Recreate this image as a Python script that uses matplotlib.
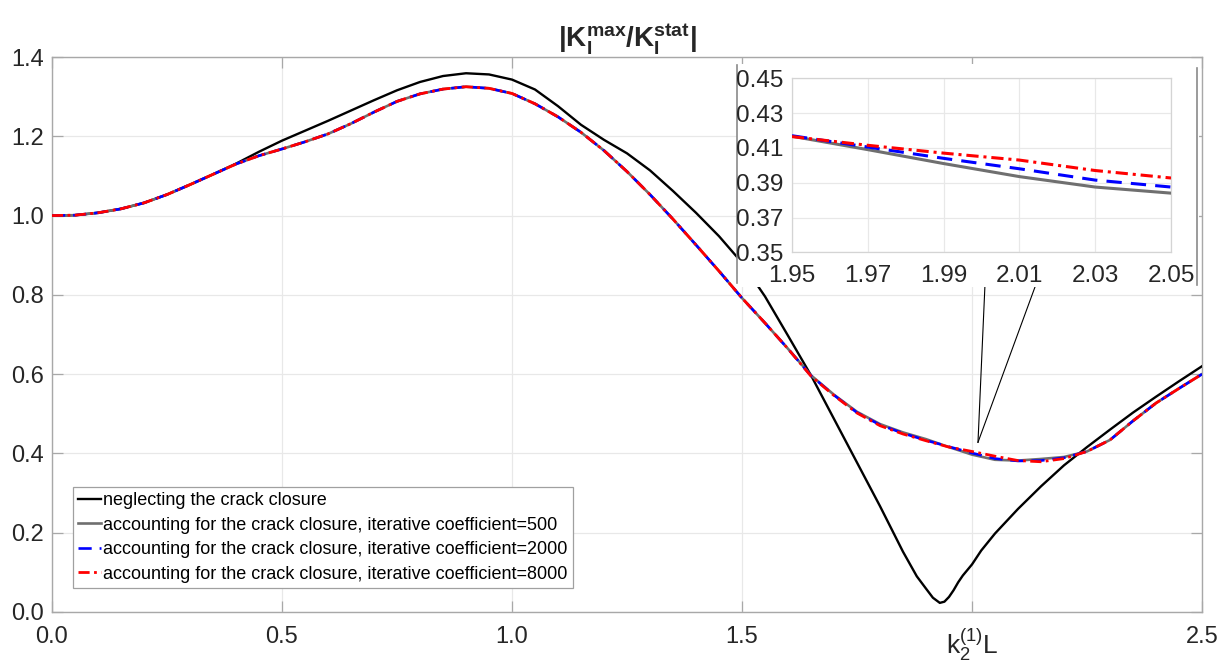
import matplotlib
matplotlib.use("Agg")
import matplotlib.pyplot as plt
from matplotlib.patches import Rectangle
from matplotlib.lines import Line2D

plt.rcParams['font.family'] = ['Liberation Sans', 'DejaVu Sans']
plt.rcParams['mathtext.fontset'] = 'custom'
plt.rcParams['mathtext.rm'] = 'Liberation Sans'
plt.rcParams['mathtext.it'] = 'Liberation Sans:italic'
plt.rcParams['mathtext.bf'] = 'Liberation Sans:bold'

# ---------------- data ----------------
x_neg = [0.00, 0.05, 0.10, 0.15, 0.20, 0.25, 0.30, 0.35, 0.40, 0.45, 0.50, 0.55, 0.60, 0.65,
         0.70, 0.75, 0.80, 0.85, 0.90, 0.95, 1.00, 1.05, 1.10, 1.15, 1.20, 1.25, 1.30, 1.35,
         1.40, 1.45, 1.50, 1.55, 1.60, 1.65, 1.70, 1.75, 1.80, 1.85, 1.88, 1.90, 1.915, 1.93,
         1.94, 1.95, 1.96, 1.97, 1.98, 1.99, 2.00, 2.02, 2.05, 2.10, 2.15, 2.20, 2.25, 2.30,
         2.35, 2.40, 2.45, 2.50]
y_neg = [1.000, 1.001, 1.007, 1.017, 1.032, 1.053, 1.078, 1.104, 1.131, 1.161, 1.189, 1.214,
         1.239, 1.265, 1.291, 1.316, 1.337, 1.352, 1.359, 1.356, 1.343, 1.318, 1.276, 1.229,
         1.191, 1.157, 1.114, 1.062, 1.007, 0.948, 0.881, 0.796, 0.697, 0.597, 0.487, 0.377,
         0.267, 0.152, 0.090, 0.059, 0.036, 0.023, 0.026, 0.038, 0.055, 0.075, 0.092, 0.106,
         0.120, 0.155, 0.198, 0.260, 0.317, 0.370, 0.416, 0.460, 0.503, 0.543, 0.582, 0.620]

x_acc = [0.00, 0.05, 0.10, 0.15, 0.20, 0.25, 0.30, 0.35, 0.40, 0.45, 0.50, 0.55, 0.60, 0.65,
         0.70, 0.75, 0.80, 0.85, 0.90, 0.95, 1.00, 1.05, 1.10, 1.15, 1.20, 1.25, 1.30, 1.35,
         1.40, 1.45, 1.50, 1.55, 1.60, 1.65, 1.70, 1.75, 1.80, 1.85, 1.90, 1.95, 2.00, 2.05,
         2.10, 2.15, 2.20, 2.25, 2.30, 2.35, 2.40, 2.45, 2.50]
y_acc500 = [1.000, 1.001, 1.007, 1.017, 1.032, 1.053, 1.078, 1.104, 1.130, 1.151, 1.168, 1.186,
            1.206, 1.232, 1.261, 1.288, 1.307, 1.319, 1.325, 1.321, 1.308, 1.282, 1.249, 1.210,
            1.164, 1.111, 1.053, 0.991, 0.926, 0.860, 0.792, 0.729, 0.664, 0.597, 0.548, 0.505,
            0.474, 0.453, 0.436, 0.416, 0.397, 0.384, 0.382, 0.386, 0.391, 0.405, 0.434, 0.482,
            0.527, 0.564, 0.600]
y_acc2000 = [1.000, 1.001, 1.007, 1.017, 1.032, 1.053, 1.078, 1.104, 1.130, 1.151, 1.168, 1.186,
             1.206, 1.232, 1.261, 1.288, 1.307, 1.319, 1.325, 1.321, 1.308, 1.282, 1.249, 1.210,
             1.164, 1.111, 1.053, 0.991, 0.926, 0.860, 0.792, 0.729, 0.664, 0.596, 0.547, 0.503,
             0.472, 0.451, 0.433, 0.417, 0.401, 0.387, 0.381, 0.382, 0.389, 0.405, 0.434, 0.482,
             0.527, 0.564, 0.600]
y_acc8000 = [1.000, 1.001, 1.007, 1.017, 1.032, 1.053, 1.078, 1.104, 1.130, 1.151, 1.168, 1.186,
             1.206, 1.232, 1.261, 1.288, 1.307, 1.319, 1.325, 1.321, 1.308, 1.282, 1.249, 1.210,
             1.164, 1.111, 1.053, 0.991, 0.926, 0.860, 0.792, 0.729, 0.664, 0.595, 0.546, 0.502,
             0.470, 0.449, 0.432, 0.416, 0.405, 0.393, 0.382, 0.379, 0.387, 0.405, 0.434, 0.482,
             0.527, 0.564, 0.600]

# inset (zoom on 1.95 .. 2.05)
x_in = [1.95, 1.97, 1.99, 2.01, 2.03, 2.05]
y_in500 = [0.4167, 0.4090, 0.4010, 0.3935, 0.3875, 0.3840]
y_in2000 = [0.4170, 0.4105, 0.4040, 0.3980, 0.3915, 0.3875]
y_in8000 = [0.4165, 0.4115, 0.4070, 0.4030, 0.3970, 0.3927]

labels = ["neglecting the crack closure",
          "accounting for the crack closure, iterative coefficient=500",
          "accounting for the crack closure, iterative coefficient=2000",
          "accounting for the crack closure, iterative coefficient=8000"]

x_ticks = [0.0, 0.5, 1.0, 1.5, 2.0, 2.5]
x_ticklabels = ["0.0", "0.5", "1.0", "1.5", r"$\mathrm{k_2^{(1)}L}$", "2.5"]
y_ticks = [0.0, 0.2, 0.4, 0.6, 0.8, 1.0, 1.2, 1.4]
y_ticklabels = ["0.0", "0.2", "0.4", "0.6", "0.8", "1.0", "1.2", "1.4"]
xin_ticks = [1.95, 1.97, 1.99, 2.01, 2.03, 2.05]
yin_ticks = [0.35, 0.37, 0.39, 0.41, 0.43, 0.45]

# leader lines (annotation) from zoomed point to inset
lead_apex = (2.013, 0.428)
lead_ends = [(2.028, 0.82), (2.137, 0.82)]

# ---------------- styles ----------------
C_BLACK = "black"
C_GRAY = "#6f6f6f"
C_BLUE = "#0000ff"
C_RED = "#ff0000"
SPINE = "#a8a8a8"
GRID = "#e8e8e8"
TXT = "#262626"

W, H = 1228, 667
fig = plt.figure(figsize=(W / 100, H / 100), dpi=100)
ax = fig.add_axes([52 / W, 1 - 612 / H, 1150 / W, 555 / H])

ax.plot(x_neg, y_neg, color=C_BLACK, lw=1.7, label=labels[0], zorder=3)
ax.plot(x_acc, y_acc500, color=C_GRAY, lw=1.9, label=labels[1], zorder=4)
ax.plot(x_acc, y_acc2000, color=C_BLUE, lw=1.9, ls=(0, (5, 3)), label=labels[2], zorder=5)
ax.plot(x_acc, y_acc8000, color=C_RED, lw=2.0, ls=(0, (4, 1.6, 1, 1.6)), label=labels[3], zorder=6)

for (ex, ey) in lead_ends:
    ax.plot([lead_apex[0], ex], [lead_apex[1], ey], color="black", lw=0.8, zorder=7)

ax.set_xlim(0, 2.5)
ax.set_ylim(0, 1.4)
ax.set_xticks(x_ticks)
ax.set_xticklabels(x_ticklabels)
ax.set_yticks(y_ticks)
ax.set_yticklabels(y_ticklabels)
ax.grid(True, color=GRID, lw=0.9)
ax.set_axisbelow(True)
for s in ax.spines.values():
    s.set_color(SPINE)
    s.set_linewidth(1.0)
ax.tick_params(direction="in", length=8, width=0.9, color=SPINE, labelsize=17,
               labelcolor=TXT, top=True, right=True)
ax.tick_params(axis="x", pad=10)
ax.tick_params(axis="y", pad=6)
ax.get_xticklabels()[4].set_fontsize(19)

ax.set_title(r"$\mathbf{|K_I^{max}/K_I^{stat}|}$", fontsize=20, color=TXT, pad=7)

leg = ax.legend(loc="lower left", bbox_to_anchor=(0.018, 0.043), borderaxespad=0,
                fontsize=13, handlelength=1.25, handletextpad=0.15, labelspacing=0.42,
                borderpad=0.3, fancybox=False, framealpha=1, edgecolor="#a0a0a0")
leg.get_frame().set_linewidth(0.9)

# white background behind inset + side frame lines
rect = Rectangle((737 / W, 1 - 287 / H), (1199 - 737) / W, (287 - 64) / H,
                 transform=fig.transFigure, facecolor="white", edgecolor="none", zorder=1)
fig.add_artist(rect)
fig.add_artist(Line2D([737 / W, 737 / W], [1 - 283 / H, 1 - 65 / H], transform=fig.transFigure,
                      color="#8a8a8a", lw=1.2, zorder=1.5))
fig.add_artist(Line2D([1197 / W, 1197 / W], [1 - 285 / H, 1 - 68 / H], transform=fig.transFigure,
                      color="#8a8a8a", lw=1.2, zorder=1.5))

# inset axes
axi = fig.add_axes([792 / W, 1 - 252.3 / H, (1171 - 792) / W, (252.3 - 78.3) / H], zorder=2)
axi.plot(x_in, y_in500, color=C_GRAY, lw=2.2, zorder=3)
axi.plot(x_in, y_in2000, color=C_BLUE, lw=2.2, ls=(0, (5, 3)), zorder=4)
axi.plot(x_in, y_in8000, color=C_RED, lw=2.2, ls=(0, (4, 1.6, 1, 1.6)), zorder=5)
axi.set_xlim(1.95, 2.05)
axi.set_ylim(0.35, 0.45)
axi.set_xticks(xin_ticks)
axi.set_xticklabels([f"{v:.2f}" for v in xin_ticks])
axi.set_yticks(yin_ticks)
axi.set_yticklabels([f"{v:.2f}" for v in yin_ticks])
axi.grid(True, color=GRID, lw=0.9)
axi.set_axisbelow(True)
for s in axi.spines.values():
    s.set_color("#d4d4d4")
    s.set_linewidth(0.9)
axi.tick_params(axis="both", labelsize=17.5, labelcolor=TXT, length=0)
axi.tick_params(axis="x", pad=9)
axi.tick_params(axis="y", pad=6)

fig.savefig("out.png", dpi=100, facecolor="white")
